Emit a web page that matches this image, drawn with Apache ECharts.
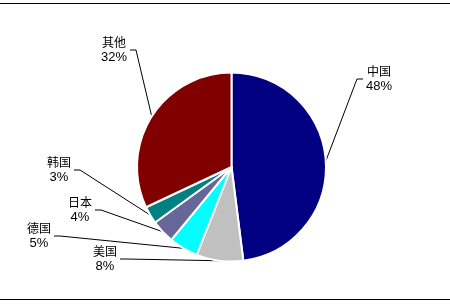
<!DOCTYPE html>
<html>
<head>
<meta charset="utf-8">
<script src="https://cdn.jsdelivr.net/npm/echarts@6/dist/echarts.min.js"></script>
<style>
html,body{margin:0;padding:0;background:#fff;}
#chart{width:450px;height:304px;}
</style>
</head>
<body>
<div id="chart"></div>
<script>
// Data
var categories = ['中国', '美国', '德国', '日本', '韩国', '其他'];
var shares = [48, 8, 5, 4, 3, 32];

// Styling / layout (not data)
var colors = ['#000080', '#C0C0C0', '#00FFFF', '#666699', '#008080', '#800000'];
var labelCenters = [[379, 79], [105, 259], [39, 236], [80, 210], [59, 170], [114, 50]];

var chart = echarts.init(document.getElementById('chart'), null, {renderer: 'canvas'});

var seriesData = categories.map(function (name, i) {
  return {name: name, value: shares[i], itemStyle: {color: colors[i]}};
});

chart.setOption({
  animation: false,
  backgroundColor: '#ffffff',
  graphic: [
    {type: 'line', shape: {x1: 0, y1: 3.5, x2: 450, y2: 3.5}, style: {stroke: '#000', lineWidth: 1}},
    {type: 'line', shape: {x1: 0, y1: 299.5, x2: 450, y2: 299.5}, style: {stroke: '#000', lineWidth: 1}}
  ],
  series: [{
    type: 'pie',
    center: [231.5, 167],
    radius: 94.5,
    startAngle: 90,
    clockwise: true,
    avoidLabelOverlap: false,
    itemStyle: {borderColor: '#ffffff', borderWidth: 2},
    label: {
      show: true,
      position: 'outside',
      formatter: '{n|{b}}\n{v|{c}%}',
      rich: {
        n: {fontFamily: '"Noto Sans CJK SC", sans-serif', fontSize: 12, lineHeight: 15, color: '#000'},
        v: {fontFamily: '"Liberation Sans", Arial, sans-serif', fontSize: 13, lineHeight: 15, color: '#000'}
      },
      color: '#000'
    },
    labelLine: {show: true, length: 10, length2: 10, lineStyle: {color: '#000', width: 1}},
    labelLayout: function (params) {
      var c = labelCenters[params.dataIndex];
      var w = params.labelRect.width;
      var p0 = params.labelLinePoints ? params.labelLinePoints[0] : [c[0], c[1]];
      var dir = p0[0] > c[0] ? 1 : -1;
      var edge = c[0] + dir * w / 2;
      return {
        x: c[0],
        y: c[1],
        align: 'center',
        verticalAlign: 'middle',
        labelLinePoints: [p0, [edge + dir * 9, c[1]], [edge + dir * 3, c[1]]]
      };
    },
    data: seriesData
  }]
});
</script>
</body>
</html>
